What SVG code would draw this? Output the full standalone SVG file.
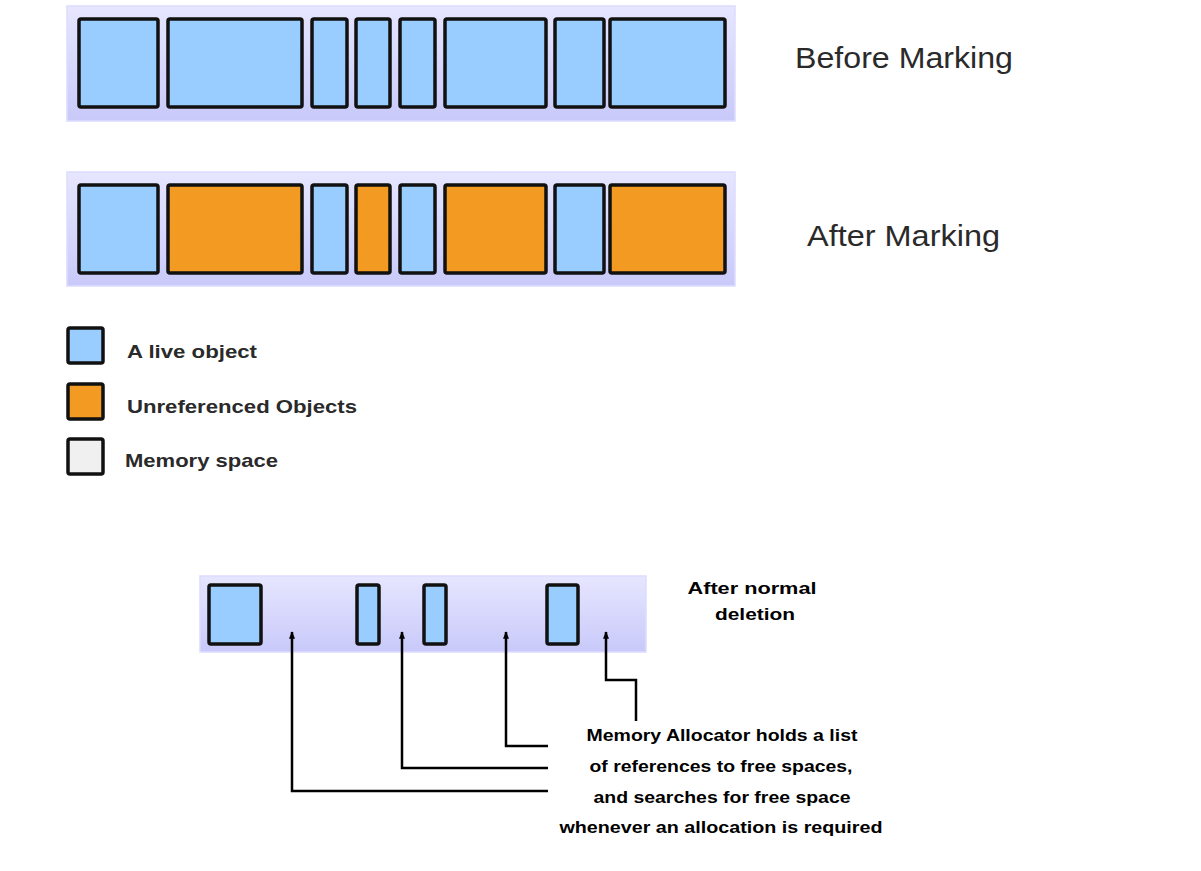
<svg xmlns="http://www.w3.org/2000/svg" width="1201" height="871" viewBox="0 0 1201 871">
<style>
.bg{fill:url(#bar);stroke:#DCDCFF;stroke-width:1.5}
.live{fill:#99CCFF;stroke:#111;stroke-width:3.5}
.dead{fill:#F39A22;stroke:#111;stroke-width:3.5}
.mem{fill:#F0F0F0;stroke:#111;stroke-width:3.5}
.title{font-family:"Liberation Sans",Arial,sans-serif;font-size:30px;fill:#2a2a2a}
.leg{font-family:"Liberation Sans",Arial,sans-serif;font-size:19px;font-weight:bold;fill:#2a2a2a}
.note{font-family:"Liberation Sans",Arial,sans-serif;font-size:17px;font-weight:bold;fill:#000}
.conn{fill:none;stroke:#000;stroke-width:2.5}
</style>
<defs>
<linearGradient id="bar" x1="0" y1="0" x2="0" y2="1">
<stop offset="0" stop-color="#E6E6FF"/>
<stop offset="1" stop-color="#C9C9FA"/>
</linearGradient>
<marker id="ah" viewBox="0 0 10 8" refX="9" refY="4" markerWidth="3" markerHeight="2.4" markerUnits="strokeWidth" orient="auto">
<path d="M0,0 L10,4 L0,8 Z" fill="#000"/>
</marker>
</defs>
<rect width="1201" height="871" fill="#fff"/>

<g id="before-marking">
<rect class="bg" x="67" y="6" width="668" height="115"/>
<rect class="live" x="79" y="19" width="79" height="88" rx="2"/>
<rect class="live" x="168" y="19" width="134" height="88" rx="2"/>
<rect class="live" x="312" y="19" width="35" height="88" rx="2"/>
<rect class="live" x="356" y="19" width="34" height="88" rx="2"/>
<rect class="live" x="400" y="19" width="35" height="88" rx="2"/>
<rect class="live" x="445" y="19" width="101" height="88" rx="2"/>
<rect class="live" x="555" y="19" width="49" height="88" rx="2"/>
<rect class="live" x="610" y="19" width="115" height="88" rx="2"/>
<text class="title" x="795" y="68" textLength="218" lengthAdjust="spacingAndGlyphs">Before Marking</text>
</g>

<g id="after-marking">
<rect class="bg" x="67" y="172" width="668" height="114"/>
<rect class="live" x="79" y="185" width="79" height="88" rx="2"/>
<rect class="dead" x="168" y="185" width="134" height="88" rx="2"/>
<rect class="live" x="312" y="185" width="35" height="88" rx="2"/>
<rect class="dead" x="356" y="185" width="34" height="88" rx="2"/>
<rect class="live" x="400" y="185" width="35" height="88" rx="2"/>
<rect class="dead" x="445" y="185" width="101" height="88" rx="2"/>
<rect class="live" x="555" y="185" width="49" height="88" rx="2"/>
<rect class="dead" x="610" y="185" width="115" height="88" rx="2"/>
<text class="title" x="807" y="246" textLength="193" lengthAdjust="spacingAndGlyphs">After Marking</text>
</g>

<g id="legend">
<rect class="live" x="68" y="328" width="35" height="35" rx="2"/>
<text class="leg" x="127" y="358" textLength="130" lengthAdjust="spacingAndGlyphs">A live  object</text>
<rect class="dead" x="68" y="384" width="35" height="35" rx="2"/>
<text class="leg" x="127" y="413" textLength="230" lengthAdjust="spacingAndGlyphs">Unreferenced Objects</text>
<rect class="mem" x="68" y="439" width="35" height="35" rx="2"/>
<text class="leg" x="125" y="467" textLength="153" lengthAdjust="spacingAndGlyphs">Memory space</text>
</g>

<g id="after-deletion">
<rect class="bg" x="200" y="576" width="446" height="76"/>
<rect class="live" x="209" y="585" width="52" height="59" rx="2"/>
<rect class="live" x="357" y="585" width="22" height="59" rx="2"/>
<rect class="live" x="424" y="585" width="22" height="59" rx="2"/>
<rect class="live" x="547" y="585" width="31" height="59" rx="2"/>
<text class="note" x="752" y="594" text-anchor="middle" textLength="129" lengthAdjust="spacingAndGlyphs">After normal</text>
<text class="note" x="755" y="620" text-anchor="middle" textLength="80" lengthAdjust="spacingAndGlyphs">deletion</text>
</g>

<g id="allocator-note">
<text class="note" x="722" y="741" text-anchor="middle" textLength="271" lengthAdjust="spacingAndGlyphs">Memory Allocator holds a list</text>
<text class="note" x="721" y="772" text-anchor="middle" textLength="263" lengthAdjust="spacingAndGlyphs">of references to free spaces,</text>
<text class="note" x="722" y="803" text-anchor="middle" textLength="257" lengthAdjust="spacingAndGlyphs">and searches for free space</text>
<text class="note" x="721" y="833" text-anchor="middle" textLength="323" lengthAdjust="spacingAndGlyphs">whenever an allocation is required</text>
</g>

<g id="connectors">
<path class="conn" d="M548,791 H292 V632" marker-end="url(#ah)"/>
<path class="conn" d="M548,768 H402 V632" marker-end="url(#ah)"/>
<path class="conn" d="M548,746 H506 V632" marker-end="url(#ah)"/>
<path class="conn" d="M636,721 V680 H606 V632" marker-end="url(#ah)"/>
</g>
</svg>
